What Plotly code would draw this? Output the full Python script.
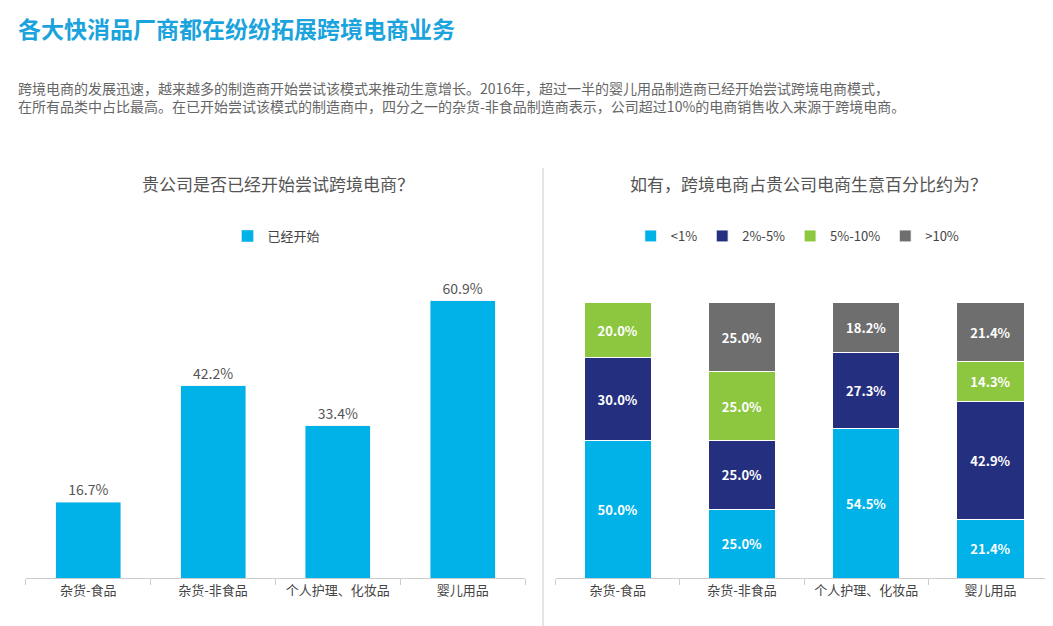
import plotly.graph_objects as go

categories = ["杂货-食品", "杂货-非食品", "个人护理、化妆品", "婴儿用品"]
started = [16.7, 42.2, 33.4, 60.9]

share_names = ["<1%", "2%-5%", "5%-10%", ">10%"]
share_colors = ["#00B2E8", "#24307F", "#8DC63F", "#6E6E6E"]
lt1 = [50.0, 25.0, 54.5, 21.4]
p2_5 = [30.0, 25.0, 27.3, 42.9]
p5_10 = [20.0, 25.0, 0, 14.3]
gt10 = [0, 25.0, 18.2, 21.4]
share_values = [lt1, p2_5, p5_10, gt10]

W, H = 1053, 626
fig = go.Figure()

fig.add_trace(go.Bar(
    x=categories, y=started, name="已经开始", marker_color="#00B2E8", showlegend=True,
    width=0.52, text=[f"{v:.1f}%" for v in started], textposition="outside",
    textfont=dict(size=14, color="#555"), cliponaxis=False,
    xaxis="x", yaxis="y", legend="legend",
))

for name, color, vals in zip(share_names, share_colors, share_values):
    fig.add_trace(go.Bar(
        x=categories, y=vals, name=name, marker_color=color,
        marker_line=dict(color="white", width=1), width=0.54,
        text=[f"<b>{v:.1f}%</b>" if v else "" for v in vals], textposition="inside",
        insidetextanchor="middle", textfont=dict(size=13, color="white"),
        xaxis="x2", yaxis="y2", legend="legend2",
    ))

axis_x = dict(showline=True, linecolor="#ccc", ticks="outside", tickson="boundaries",
              tickcolor="#ccc", ticklen=6, tickfont=dict(size=13, color="#444"))
axis_y = dict(visible=False, showgrid=False)

fig.update_layout(
    width=W, height=H, margin=dict(l=0, r=0, t=0, b=0),
    paper_bgcolor="white", plot_bgcolor="white", barmode="stack",
    font=dict(family="Noto Sans CJK SC, sans-serif"),
    xaxis=dict(domain=[0.017, 0.491], anchor="y", **axis_x),
    yaxis=dict(domain=[0.089, 0.599], range=[0, 70], **axis_y),
    xaxis2=dict(domain=[0.520, 0.992], anchor="y2", **axis_x),
    yaxis2=dict(domain=[0.089, 0.529], range=[0, 100], **axis_y),
    legend=dict(orientation="h", x=0.255, xanchor="center", y=1 - 228 / H, yanchor="middle",
                font=dict(size=13, color="#444")),
    legend2=dict(orientation="h", x=0.75, xanchor="center", y=1 - 228 / H, yanchor="middle",
                 font=dict(size=13, color="#444"), traceorder="normal"),
    shapes=[dict(type="line", xref="paper", yref="paper", x0=535 / W, x1=535 / W,
                 y0=0, y1=1 - 160 / H, line=dict(color="#ccc", width=1))],
    annotations=[
        dict(text="<b>各大快消品厂商都在纷纷拓展跨境电商业务</b>", x=8 / W, y=1 - 20 / H,
             xref="paper", yref="paper", xanchor="left", yanchor="middle", showarrow=False,
             font=dict(size=23, color="#1AA3DC")),
        dict(text="跨境电商的发展迅速，越来越多的制造商开始尝试该模式来推动生意增长。2016年，超过一半的婴儿用品制造商已经开始尝试跨境电商模式，<br>在所有品类中占比最高。在已开始尝试该模式的制造商中，四分之一的杂货-非食品制造商表示，公司超过10%的电商销售收入来源于跨境电商。",
             x=8 / W, y=1 - 89 / H, xref="paper", yref="paper", xanchor="left", yanchor="middle",
             showarrow=False, align="left", font=dict(size=14, color="#666")),
        dict(text="贵公司是否已经开始尝试跨境电商？", x=270 / W, y=1 - 175 / H, xref="paper", yref="paper",
             xanchor="center", yanchor="middle", showarrow=False, font=dict(size=17, color="#555")),
        dict(text="如有，跨境电商占贵公司电商生意百分比约为？", x=800 / W, y=1 - 175 / H, xref="paper", yref="paper",
             xanchor="center", yanchor="middle", showarrow=False, font=dict(size=17, color="#555")),
    ],
)

fig.write_html("out.html")
